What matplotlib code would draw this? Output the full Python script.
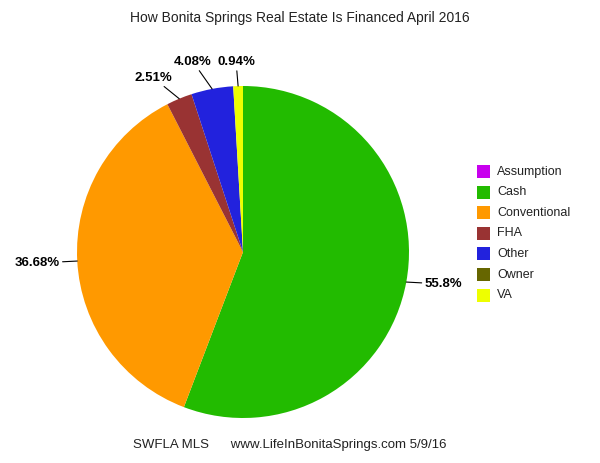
import matplotlib
matplotlib.use('Agg')
import matplotlib.pyplot as plt
from matplotlib.patches import Rectangle
import numpy as np

# data
categories = ['Assumption', 'Cash', 'Conventional', 'FHA', 'Other', 'Owner', 'VA']
shares = [0.0, 55.8, 36.68, 2.51, 4.08, 0.0, 0.94]
pct_labels = ['', '55.8%', '36.68%', '2.51%', '4.08%', '', '0.94%']
colors = ['#C800EE', '#22BB00', '#FF9900', '#993333', '#2222DD', '#666600', '#EEFF00']

TITLE = 'How Bonita Springs Real Estate Is Financed April 2016'
FOOTER = 'SWFLA MLS      www.LifeInBonitaSprings.com 5/9/16'

W, H = 600, 463
plt.rcParams['font.family'] = ['Liberation Sans', 'DejaVu Sans']

fig = plt.figure(figsize=(W / 100, H / 100), dpi=100)

# pie area: center (243, 252) px, radius 166 px
cx, cy, r = 243, 252, 166
ax = fig.add_axes([(cx - r) / W, (H - cy - r) / H, 2 * r / W, 2 * r / H])
wedges, _ = ax.pie(shares, colors=colors, startangle=90, counterclock=False,
                   wedgeprops=dict(linewidth=0))
ax.set_xlim(-1, 1)
ax.set_ylim(-1, 1)
ax.axis('off')

# label offsets (pixels) from the wedge edge to the label centre
offsets = {'Cash': (37, -2), 'Conventional': (-40, -2), 'FHA': (-26, 21),
           'Other': (-19, 27), 'VA': (-2, 24)}

for w, cat, lab in zip(wedges, categories, pct_labels):
    if not lab:
        continue
    mid = np.deg2rad((w.theta1 + w.theta2) / 2)
    ax.annotate(lab, xy=(np.cos(mid), np.sin(mid)), xytext=offsets[cat],
                textcoords='offset pixels', ha='center', va='center',
                fontsize=9.5, fontweight='bold', color='black',
                arrowprops=dict(arrowstyle='-', color='black', lw=0.8,
                                shrinkA=0, shrinkB=0),
                annotation_clip=False)

# legend
for i, (cat, col) in enumerate(zip(categories, colors)):
    yc = 171.5 + i * 20.6
    fig.patches.append(Rectangle((477 / W, 1 - (yc + 6.5) / H), 13 / W, 13 / H,
                                 transform=fig.transFigure, facecolor=col,
                                 edgecolor='none'))
    fig.text(497 / W, 1 - yc / H, cat, ha='left', va='center',
             fontsize=9, color='#222222')

fig.text(0.5, 1 - 18 / H, TITLE, ha='center', va='center', fontsize=10,
         color='#222222')
fig.text(289.5 / W, 1 - 445 / H, FOOTER, ha='center', va='center',
         fontsize=9.5, color='#222222')

fig.savefig('out.png', dpi=100)
